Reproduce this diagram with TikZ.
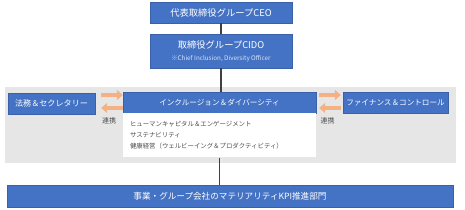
\documentclass[tikz,border=0pt]{standalone}
\usepackage{fontspec}
\setmainfont{Noto Sans CJK JP}
\usepackage{xcolor}
\usetikzlibrary{arrows.meta,positioning,calc}
\definecolor{boxblue}{HTML}{4472C4}
\definecolor{xferorange}{HTML}{F4B183}
\definecolor{bandgray}{HTML}{E7E6E6}
\definecolor{linkgray}{HTML}{404040}
\definecolor{listgray}{HTML}{4D4D4D}

\begin{document}
\begin{tikzpicture}[
  x=1pt, y=-1pt,
  orgbox/.style={rectangle, draw=boxblue!85!black, line width=0.4pt, fill=boxblue, text=white, inner sep=0pt, minimum height=21pt, font=\fontsize{8}{10}\selectfont},
  bodybox/.style={rectangle, fill=white, inner xsep=7pt, inner ysep=0pt, align=left, text=listgray, font=\fontsize{6.4}{11}\selectfont},
  link/.style={line width=1.2pt, linkgray},
  xfer/.style={-{Triangle[length=6pt,width=10pt]}, line width=4pt, xferorange},
  note/.style={font=\fontsize{7}{8}\selectfont, text=listgray}
]
\useasboundingbox (0,0) rectangle (465,209);

% gray band behind the middle row
\node[rectangle, fill=bandgray, minimum width=451pt, minimum height=76pt, inner sep=0pt] (band) at (230.5,125) {};

\node[orgbox, minimum width=142pt, font=\fontsize{9.3}{11}\selectfont] (ceo) at (221,12.5) {代表取締役グループCEO};
\node[orgbox, minimum width=142pt, minimum height=34pt, align=center, font=\fontsize{9.3}{11}\selectfont] (cido) at (221,51)
  {取締役グループCIDO\\[1pt]{\fontsize{6.3}{7}\selectfont\color{white!80!boxblue}※Chief Inclusion, Diversity Officer}};

\node[orgbox, minimum width=87pt, font=\fontsize{8.1}{10}\selectfont] (legal) at (51.5,103.5) {法務＆セクレタリー};
\node[orgbox, minimum width=193pt, font=\fontsize{7.6}{10}\selectfont] (inc) at (219.5,102.5) {インクルージョン＆ダイバーシティ};
\node[bodybox, below=0pt of inc, text width=179pt, minimum height=44pt] (incbody)
  {ヒューマンキャピタル＆エンゲージメント\\サステナビリティ\\健康経営（ウェルビーイング＆プロダクティビティ）};
\node[orgbox, minimum width=105pt, font=\fontsize{7.6}{10}\selectfont] (fin) at (395.5,102.5) {ファイナンス＆コントロール};

\node[orgbox, minimum width=446pt, minimum height=22pt, font=\fontsize{8.6}{10}\selectfont] (kpi) at (230,196) {事業・グループ会社のマテリアリティKPI推進部門};

\draw[link] (ceo) -- (cido);
\draw[link] (cido.south) -- (cido.south |- inc.north);
\draw[link] (incbody.south) -- (incbody.south |- kpi.north);

% cooperation arrows
\draw[xfer] ($(legal.east)+(6,-8.5)$) -- ($(legal.east -| inc.west)+(0,-8.5)$);
\draw[xfer] ($(legal.east -| inc.west)+(0,4.5)$) -- ($(legal.east)+(6,4.5)$);
\draw[xfer] ($(inc.east)+(3,-7.5)$) -- ($(inc.east -| fin.west)+(-2,-7.5)$);
\draw[xfer] ($(inc.east -| fin.west)+(-2,5.5)$) -- ($(inc.east)+(3,5.5)$);

\node[note] (coopl) at ($(legal.east)!0.5!(inc.west)+(0,18)$) {連携};
\node[note] (coopr) at ($(inc.east)!0.5!(fin.west)+(-2,18.5)$) {連携};

\end{tikzpicture}
\end{document}
